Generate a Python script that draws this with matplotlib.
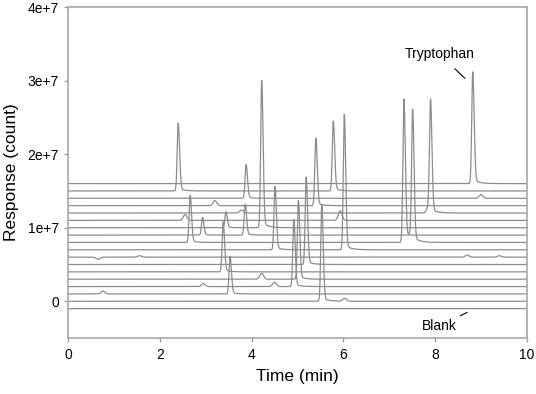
import numpy as np
import matplotlib
matplotlib.use("Agg")
import matplotlib.pyplot as plt

plt.rcParams['font.family'] = ['Liberation Sans', 'DejaVu Sans']

# baseline offset of each trace (counts, top trace first, last one is the blank)
baselines = [16e6, 15e6, 14e6, 13e6, 12e6, 11e6, 10e6, 9e6, 8e6,
             7e6, 6e6, 5e6, 4e6, 3e6, 2e6, 1e6, 0, -1e6]

# peaks of each trace: (retention time min, height above baseline in 1e6 counts)
peaks = [
    [(8.82, 15.2)],
    [(2.40, 9.2), (5.78, 9.5)],
    [(3.88, 4.6), (9.00, 0.5)],
    [(3.20, 0.7), (5.40, 9.2)],
    [(3.78, 0.4), (7.86, 1.0), (7.90, 14.9)],
    [(2.55, 0.8), (5.93, 1.3)],
    [(3.44, 2.2), (4.22, 20.0)],
    [(2.93, 2.4), (3.86, 4.2)],
    [(2.66, 6.4), (7.34, 1.0), (7.32, 18.6), (7.46, 1.0), (7.51, 17.5)],
    [(4.51, 8.6), (6.02, 18.4)],
    [(0.65, -0.3), (1.56, 0.2), (8.70, 0.3), (9.40, 0.2)],
    [(5.19, 11.9)],
    [(3.38, 6.8)],
    [(4.22, 0.8), (5.02, 10.7)],
    [(2.95, 0.4), (4.50, 0.6), (4.92, 9.1)],
    [(0.76, 0.4), (3.53, 5.1)],
    [(5.53, 13.2), (6.03, 0.4)],
    [],
]

t = np.linspace(0, 10, 4001)


def peak(t0, h):
    # narrow peaks with a bit of tailing, small ones are broader
    if abs(h) < 1.5:
        return h * np.exp(-0.5 * ((t - t0) / 0.04) ** 2)
    s = np.where(t < t0, 0.022, 0.03)
    y = np.exp(-0.5 * ((t - t0) / s) ** 2)
    tail = np.where(t > t0, 0.04 * np.exp(-(t - t0) / 0.12), 0)
    return h * (y + tail * (1 - np.exp(-((t - t0) / 0.03) ** 2)))


fig, ax = plt.subplots(figsize=(5.36, 3.94), dpi=100)
fig.subplots_adjust(left=0.127, right=0.983, top=0.982, bottom=0.142)

for base, pk in zip(baselines, peaks):
    y = np.full_like(t, base)
    for t0, h in pk:
        y = y + peak(t0, h) * 1e6
    ax.plot(t, y, color='#8c8c8c', lw=0.9)

ax.set_xlim(0, 10)
ax.set_ylim(-5e6, 4e7)
ax.set_xticks([0, 2, 4, 6, 8, 10])
ax.set_yticks([0, 1e7, 2e7, 3e7, 4e7])
ax.set_yticklabels(['0', '1e+7', '2e+7', '3e+7', '4e+7'])
ax.set_xlabel('Time (min)', fontsize=12.5, labelpad=5)
ax.set_ylabel('Response (count)', fontsize=12.5, labelpad=6)
ax.tick_params(colors='#a0a0a0', labelcolor='black', labelsize=10, length=3, width=1)
ax.tick_params(axis='x', pad=4)
for sp in ax.spines.values():
    sp.set_color('#a8a8a8')
    sp.set_linewidth(1.2)

ax.annotate('Tryptophan', xy=(8.65, 30.3e6), xytext=(8.10, 33.6e6),
            ha='center', va='center', fontsize=10,
            arrowprops=dict(arrowstyle='-', color='black', lw=0.8, shrinkA=5, shrinkB=0))
ax.annotate('Blank', xy=(8.70, -1.5e6), xytext=(8.10, -3.4e6),
            ha='center', va='center', fontsize=10,
            arrowprops=dict(arrowstyle='-', color='black', lw=0.8, shrinkA=1, shrinkB=0))

fig.savefig('out.png', dpi=100)
